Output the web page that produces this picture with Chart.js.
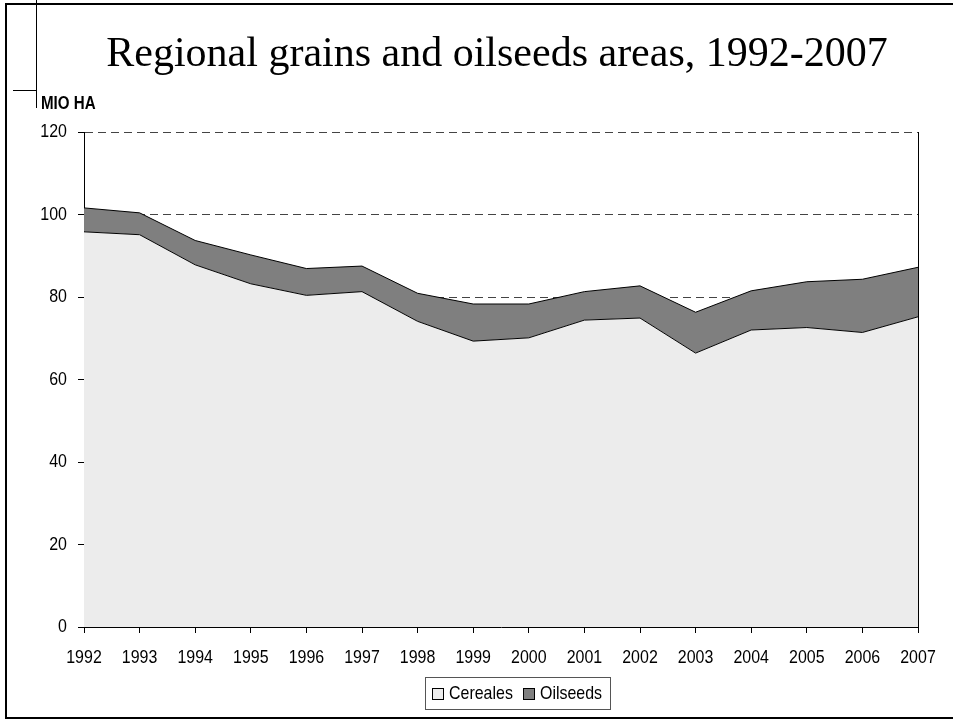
<!DOCTYPE html>
<html>
<head>
<meta charset="utf-8">
<script src="https://cdn.jsdelivr.net/npm/chart.js@4"></script>
<style>
html,body{margin:0;padding:0;background:#fff;}
#wrap{width:953px;height:720px;position:relative;}
</style>
</head>
<body>
<div id="wrap"><canvas id="c" width="953" height="720"></canvas></div>
<script>
const years = ['1992','1993','1994','1995','1996','1997','1998','1999','2000','2001','2002','2003','2004','2005','2006','2007'];
const cereales = [95.8,95.1,87.8,83.2,80.4,81.3,74.1,69.3,70.1,74.4,74.9,66.4,72.0,72.6,71.4,75.2];
const oilseeds = [5.8,5.3,5.9,7.0,6.5,6.2,6.8,9.0,8.2,6.9,7.8,9.9,9.5,11.1,12.9,12.0];
const yTicks = [0,20,40,60,80,100,120];
const titleText = 'Regional grains and oilseeds areas, 1992-2007';
const unitText = 'MIO HA';
const seriesNames = ['Cereales','Oilseeds'];
const fills = ['#ececec','#7f7f7f'];

const FONT = '"Liberation Sans", Arial, sans-serif';
const SQUEEZE = 0.84;

const canvas = document.getElementById('c');
const cx = canvas.getContext('2d');
const origFill = cx.fillText;
cx.fillText = function(t,x,y,mw){
  if(this.__noSqueeze){ return mw===undefined?origFill.call(this,t,x,y):origFill.call(this,t,x,y,mw); }
  const w = this.measureText(String(t)).width*SQUEEZE;
  return origFill.call(this,t,x,y,mw!==undefined?Math.min(mw,w):w);
};

const decor = {
  id:'decor',
  beforeDraw(chart){
    const ctx = chart.ctx;
    ctx.save();
    ctx.fillStyle='#fff';
    ctx.fillRect(0,0,chart.width,chart.height);
    ctx.strokeStyle='#000';
    ctx.lineWidth=2;
    ctx.beginPath();
    ctx.moveTo(6,4); ctx.lineTo(953,4);
    ctx.moveTo(6,3); ctx.lineTo(6,719);
    ctx.moveTo(6,718); ctx.lineTo(953,718);
    ctx.stroke();
    ctx.lineWidth=1;
    ctx.beginPath();
    ctx.moveTo(36.5,0); ctx.lineTo(36.5,108);
    ctx.moveTo(13,90.5); ctx.lineTo(37,90.5);
    ctx.stroke();
    ctx.fillStyle='#000';
    ctx.font='42px "Liberation Serif", "Times New Roman", serif';
    ctx.textAlign='center';
    ctx.textBaseline='alphabetic';
    ctx.__noSqueeze=true;
    ctx.fillText(titleText,497,66);
    ctx.__noSqueeze=false;
    ctx.font='bold 18px '+FONT;
    ctx.textAlign='left';
    ctx.textBaseline='middle';
    ctx.fillText(unitText,41,104);
    ctx.restore();
  },
  afterDatasetsDraw(chart){
    const ctx=chart.ctx, a=chart.chartArea;
    ctx.save();
    ctx.strokeStyle='#000';
    ctx.lineWidth=1;
    ctx.beginPath();
    ctx.moveTo(Math.round(a.right)+0.5,a.top);
    ctx.lineTo(Math.round(a.right)+0.5,a.bottom);
    ctx.stroke();
    // legend
    ctx.strokeStyle='#555';
    ctx.strokeRect(425.5,677.5,185,32);
    ctx.font='19px '+FONT;
    ctx.textBaseline='middle';
    ctx.textAlign='left';
    const xs=[432,523];
    for(let i=0;i<2;i++){
      ctx.fillStyle=fills[i];
      ctx.fillRect(xs[i]+0.5,688.5,11,11);
      ctx.strokeStyle='#000';
      ctx.strokeRect(xs[i]+0.5,688.5,11,11);
      ctx.fillStyle='#000';
      ctx.fillText(seriesNames[i],xs[i]+17,694);
    }
    ctx.restore();
  }
};

new Chart(canvas,{
  type:'line',
  data:{
    labels:years,
    datasets:[
      {label:seriesNames[0],data:cereales,fill:'origin',backgroundColor:fills[0],borderColor:'#000',borderWidth:1,pointRadius:0,tension:0},
      {label:seriesNames[1],data:oilseeds,fill:'-1',backgroundColor:fills[1],borderColor:'#000',borderWidth:1,pointRadius:0,tension:0}
    ]
  },
  options:{
    responsive:false,
    animation:false,
    events:[],
    layout:{padding:{left:0,right:35,top:132,bottom:0}},
    plugins:{legend:{display:false},tooltip:{enabled:false},title:{display:false}},
    scales:{
      x:{
        type:'category',
        offset:false,
        grid:{display:true,drawOnChartArea:false,drawTicks:true,tickLength:6,tickColor:'#000'},
        border:{display:true,color:'#000',width:1},
        ticks:{color:'#000',font:{family:FONT,size:19},padding:13,maxRotation:0,autoSkip:false},
        afterFit(s){s.height=93;}
      },
      y:{
        stacked:true,
        min:0,max:120,
        afterBuildTicks(s){s.ticks=yTicks.map(v=>({value:v}));},
        grid:{display:true,drawOnChartArea:true,drawTicks:true,tickLength:6,
          color:(c)=>(c.tick && c.tick.value===0)?'rgba(0,0,0,0)':'#444',tickColor:'#000',lineWidth:1},
        border:{display:true,color:'#000',width:1,dash:[8,5]},
        ticks:{color:'#000',font:{family:FONT,size:19},padding:11},
        afterFit(s){s.width=84;}
      }
    }
  },
  plugins:[decor]
});
</script>
</body>
</html>
